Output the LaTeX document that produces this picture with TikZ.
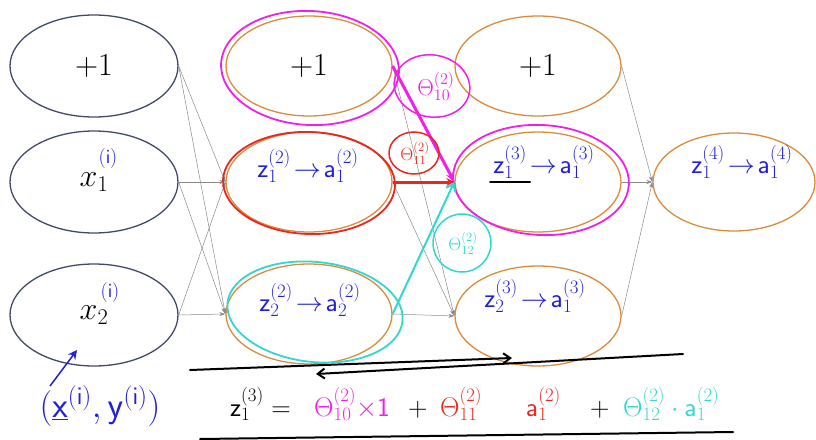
\documentclass[tikz,border=0pt]{standalone}
\usepackage{fix-cm}
\usetikzlibrary{shapes.geometric,arrows.meta}
\definecolor{slate}{HTML}{3F4B66}
\definecolor{orng}{HTML}{D98C3C}
\definecolor{mag}{HTML}{F020E8}
\definecolor{redd}{HTML}{E82820}
\definecolor{cyn}{HTML}{30D8D0}
\definecolor{hblue}{HTML}{2020D8}
\definecolor{conn}{HTML}{8A8A8A}
\begin{document}
\begin{tikzpicture}[x=1pt,y=-1pt,
  neuron/.style={ellipse, draw, line width=1.3pt, inner sep=0pt, minimum width=166pt, minimum height=100pt, font=\fontsize{32}{34}\selectfont},
  inl/.style={neuron, draw=slate, minimum width=168pt, minimum height=102pt},
  hid/.style={neuron, draw=orng},
  edge/.style={draw=conn, line width=0.5pt, -{Stealth[length=6pt,width=4pt]}},
  hw/.style={text=hblue, font=\fontsize{27}{29}\selectfont, inner sep=0pt},
  hsup/.style={text=hblue, font=\fontsize{20}{22}\selectfont, inner sep=0pt},
  ann/.style={ellipse, draw, line width=1.8pt, inner sep=0pt},
  small/.style={font=\fontsize{23}{25}\selectfont, inner sep=0pt},
  smaller/.style={font=\fontsize{18}{20}\selectfont, inner sep=0pt},
  eq/.style={font=\fontsize{27}{29}\selectfont, inner sep=0pt, anchor=base west},
  ink/.style={line width=2pt, line cap=round}
]
\useasboundingbox (0,0) rectangle (816,439);

% neurons
\node[inl] (b1) at (94,66) {$+1$};
\node[inl] (x1) at (94,182) {$x_1$};
\node[inl] (x2) at (94,315) {$x_2$};
\node[hid] (b2) at (309,66) {$+1$};
\node[hid] (h21) at (309,182) {};
\node[hid] (h22) at (309,314) {};
\node[hid] (b3) at (538,66) {$+1$};
\node[hid] (h31) at (538,182) {};
\node[hid] (h32) at (538,316) {};
\node[hid, minimum width=162pt, minimum height=98pt] (o4) at (734,182) {};

% connectors
\foreach \s in {b1,x1,x2} \foreach \t in {h21,h22} \draw[edge] (\s.east) -- (\t.west);
\foreach \s in {b2,h21,h22} \foreach \t in {h31,h32} \draw[edge] (\s.east) -- (\t.west);
\foreach \s in {b3,h31,h32} \draw[edge] (\s.east) -- (o4.west);

% handwritten labels in neurons
\node[hsup] (i1) at (108,158) {$\mathsf{(i)}$};
\node[hsup] (i2) at (110,292) {$\mathsf{(i)}$};
\node[hw] (l21) at (308,166) {$\mathsf{z}^{(2)}_{1}\!\rightarrow\!\mathsf{a}^{(2)}_{1}$};
\node[hw] (l22) at (310,300) {$\mathsf{z}^{(2)}_{2}\!\rightarrow\!\mathsf{a}^{(2)}_{2}$};
\node[hw] (l31) at (544,162) {$\mathsf{z}^{(3)}_{1}\!\rightarrow\!\mathsf{a}^{(3)}_{1}$};
\node[hw] (l32) at (535,296) {$\mathsf{z}^{(3)}_{2}\!\rightarrow\!\mathsf{a}^{(3)}_{1}$};
\node[hw] (l41) at (742,162) {$\mathsf{z}^{(4)}_{1}\!\rightarrow\!\mathsf{a}^{(4)}_{1}$};
\coordinate (ul1) at (490,182);
\coordinate (ul2) at (530,182);
\draw[ink, black] (ul1) -- (ul2);

% annotation ellipses
\node[ann, draw=mag, minimum width=178pt, minimum height=114pt, rotate=-3] (mb2) at (310,68) {};
\node[ann, draw=mag, minimum width=176pt, minimum height=110pt, rotate=-3] (m31) at (541,180) {};
\node[ann, draw=redd, minimum width=172pt, minimum height=102pt, rotate=-2] (r21) at (309,183) {};
\node[ann, draw=cyn, minimum width=176pt, minimum height=100pt, rotate=-6] (c22) at (315,312) {};

% weight arrows
\draw[mag, line width=3pt, -{Stealth[length=10pt,width=8pt]}] (b2.east) -- (h31.west);
\draw[redd, line width=3pt, -{Stealth[length=8pt,width=8pt]}] (h21.east) -- (h31.west);
\draw[cyn, line width=2pt, -{Straight Barb[length=7pt,width=10pt]}] (h22.east) -- (h31.west);

% weight labels
\node[ann, draw=mag, line width=1.5pt, minimum width=76pt, minimum height=62pt, rotate=-10] (t10o) at (432,86) {};
\node[small, text=mag] (t10) at (436,86) {$\Theta^{(2)}_{10}$};
\node[ann, draw=redd, line width=1.5pt, minimum width=50pt, minimum height=42pt] (t11o) at (414,153) {};
\node[smaller, text=redd] (t11) at (415,153) {$\Theta^{(2)}_{11}$};
\node[ann, draw=cyn, line width=1.5pt, minimum width=58pt, minimum height=58pt] (t12o) at (462,243) {};
\node[smaller, text=cyn] (t12) at (463,243) {$\Theta^{(2)}_{12}$};

% input annotation
\node[text=hblue, font=\fontsize{36}{38}\selectfont, inner sep=0pt] (xy) at (100,406) {$(\underline{\mathsf{x}}^{\mathsf{(i)}},\mathsf{y}^{\mathsf{(i)}})$};
\coordinate (xyarr) at (50,386);
\coordinate (xyend) at (77,350);
\draw[hblue, line width=1.5pt, -{Stealth[open,length=9pt,width=9pt]}] (xyarr) -- (xyend);

% bottom strokes
\coordinate (s1a) at (190,370);
\coordinate (s1b) at (512,358);
\coordinate (s2a) at (316,374);
\coordinate (s2b) at (683,354);
\coordinate (s3a) at (200,439);
\coordinate (s3b) at (733,432);
\draw[ink, -{Straight Barb[length=7pt,width=10pt]}] (s1a) -- (s1b);
\draw[ink, {Straight Barb[length=7pt,width=10pt]}-] (s2a) -- (s2b);
\draw[ink] (s3a) -- (s3b);

% equation
\node[eq] (e0) at (230,416) {$\mathsf{z}^{(3)}_{1} =$};
\node[eq, text=mag] (e1) at (314,416) {$\Theta^{(2)}_{10}{\times}\mathsf{1}$};
\node[eq] (e2) at (408,416) {$+$};
\node[eq, text=redd] (e3) at (440,416) {$\Theta^{(2)}_{11}\hspace{44pt}\mathsf{a}^{(2)}_{1}$};
\node[eq] (e4) at (590,416) {$+$};
\node[eq, text=cyn] (e5) at (623,416) {$\Theta^{(2)}_{12}\cdot\mathsf{a}^{(2)}_{1}$};
\end{tikzpicture}
\end{document}
